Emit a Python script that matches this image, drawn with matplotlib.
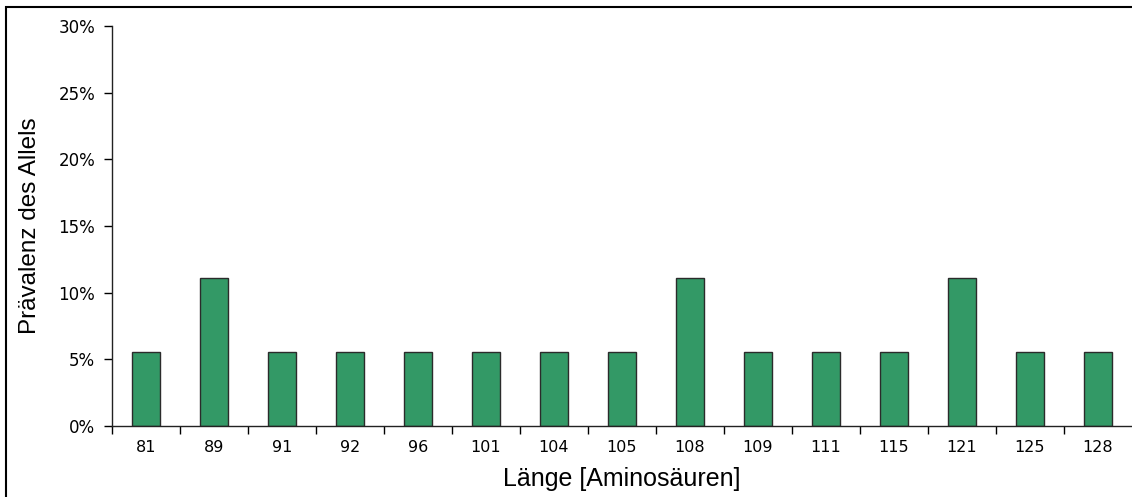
import numpy as np
import matplotlib.pyplot as plt
from matplotlib.patches import Rectangle
from matplotlib.ticker import FixedLocator, PercentFormatter

# allele lengths (amino acids) and their prevalence in percent
lengths = ['81', '89', '91', '92', '96', '101', '104', '105', '108',
           '109', '111', '115', '121', '125', '128']
prevalence = [5.56, 11.11, 5.56, 5.56, 5.56, 5.56, 5.56, 5.56, 11.11,
              5.56, 5.56, 5.56, 11.11, 5.56, 5.56]
y_ticks = [0, 5, 10, 15, 20, 25, 30]

fig = plt.figure(figsize=(11.32, 4.97), dpi=100)
ax = fig.add_axes([112 / 1132, 1 - 426 / 497, 1020 / 1132, 400 / 497])

x = np.arange(len(lengths))
ax.bar(x, prevalence, width=0.4, color='#339966', edgecolor='#2b2b2b',
       linewidth=1.0, zorder=2)

ax.set_xlim(-0.5, len(lengths) - 0.5)
ax.set_ylim(0, 30)
ax.set_yticks(y_ticks)
ax.yaxis.set_major_formatter(PercentFormatter(decimals=0))

# labels sit under the bars, tick marks between the categories
ax.set_xticks(x)
ax.set_xticklabels(lengths)
ax.xaxis.set_minor_locator(FixedLocator(np.arange(len(lengths)) - 0.5))
ax.tick_params(axis='x', which='major', length=0, pad=10, labelsize=11.5)
ax.tick_params(axis='x', which='minor', length=6, width=1, direction='out')
ax.tick_params(axis='y', length=6, width=1, direction='out', labelsize=12, pad=6)

for side in ['top', 'right']:
    ax.spines[side].set_visible(False)
for side in ['left', 'bottom']:
    ax.spines[side].set_linewidth(1.0)
    ax.spines[side].set_color('#222222')

ax.set_xlabel('Länge [Aminosäuren]', fontfamily='Liberation Sans',
              fontsize=18, labelpad=9)
ax.set_ylabel('Prävalenz des Allels', fontfamily='Liberation Sans',
              fontsize=17.5, labelpad=13)

# frame around the whole figure (clipped at right and bottom)
fig.patches.append(Rectangle((6 / 1132, -0.05), 1.1, 1 - 7 / 497 + 0.05,
                             transform=fig.transFigure, fill=False,
                             edgecolor='black', linewidth=1.5))

fig.savefig('out.png', dpi=100)
